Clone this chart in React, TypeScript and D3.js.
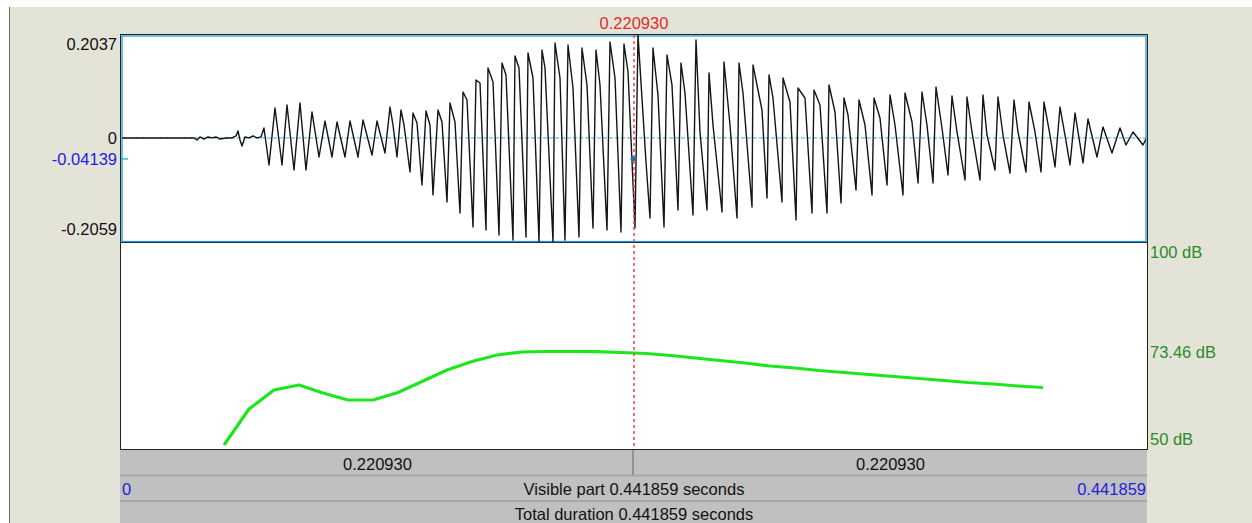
import React from 'react';
import { scaleLinear, line, curveLinear } from 'd3';

// sound: time (ms) and amplitude of the waveform turning points
const waveTimeMs = [
  0, 31.44, 32.73, 34.02, 35.74, 37.47, 39.19, 40.91, 42.64, 45.22, 47.8, 49.53, 50.39, 51.25, 52.11, 53.4, 55.12,
  56.85, 58.57, 60.29, 61.58, 63.74, 66.32, 69.34, 71.49, 74.5, 77.09, 79.67, 82.26, 85.27, 87.85, 90.87, 93.02,
  96.47, 98.62, 102.07, 104.22, 108.1, 110.25, 113.69, 115.85, 117.14, 118.86, 120.58, 121.88, 124.46, 125.75,
  127.48, 129.63, 131.35, 133.07, 134.37, 136.52, 138.24, 140.4, 141.69, 143.84, 145.99, 147.29, 149.01, 151.59,
  152.88, 154.61, 157.19, 158.05, 160.21, 162.79, 164.08, 165.8, 168.82, 169.68, 171.4, 174.42, 175.28, 177.43,
  180.02, 181.31, 182.6, 186.05, 186.91, 189.06, 191.21, 192.51, 194.66, 197.24, 198.53, 200.69, 203.27, 204.56,
  206.29, 209.3, 210.59, 212.75, 215.33, 216.62, 218.35, 221.36, 222.65, 226.1, 227.82, 229.11, 231.26, 233.85,
  235.14, 237.29, 239.88, 241.17, 242.89, 246.34, 247.63, 249.35, 252.37, 253.23, 254.95, 258.83, 259.69, 262.27,
  265.29, 266.15, 267.87, 271.75, 272.18, 276.05, 278.21, 279.07, 280.79, 284.67, 285.1, 288.11, 290.7, 291.56,
  294.57, 297.59, 298.45, 301.03, 304.05, 304.91, 307.49, 310.08, 311.37, 313.09, 316.54, 317.83, 320.41, 323.43,
  324.29, 326.87, 329.89, 331.18, 333.33, 336.78, 337.64, 340.65, 343.24, 344.96, 347.11, 349.7, 350.99, 353.57,
  356.16, 357.88, 360.03, 363.48, 364.34, 366.49, 369.94, 371.23, 372.95, 376.4, 377.69, 379.84, 382.86, 384.58,
  386.3, 389.75, 391.04, 393.62, 396.21, 397.5, 400.08, 402.24, 404.39, 406.54, 408.7, 410.85, 414.3, 416.45,
  420.32, 422.91, 426.78, 430.23, 432.81, 435.83, 440.13, 441.86
];
const waveAmp = [
  0, 0, -0.004, 0.0019, -0.0021, 0.0019, 0, 0.0019, -0.0021, 0, 0, 0.0039, 0.0137, -0.004, -0.016, 0.0019, 0,
  0.0039, 0, 0.0019, 0.0197, -0.0535, 0.0592, -0.0535, 0.0652, -0.0634, 0.0691, -0.0634, 0.0513, -0.0377, 0.0335,
  -0.0377, 0.0316, -0.0377, 0.0335, -0.0377, 0.0355, -0.0338, 0.0335, -0.0298, 0.0612, 0.0256, -0.0377, 0.0553,
  0.0256, -0.0674, 0.0494, 0.0296, -0.0931, 0.0533, 0.0256, -0.1129, 0.0553, 0.0316, -0.1267, 0.0691, 0.0316,
  -0.1485, 0.0909, 0.0751, -0.1762, 0.1147, 0.1087, -0.1821, 0.1384, 0.1107, -0.192, 0.1483, 0.1246, -0.2019,
  0.1621, 0.1384, -0.196, 0.1681, 0.1186, -0.2059, 0.174, 0.1384, -0.2059, 0.1879, 0.1186, -0.2019, 0.1839, 0.0988,
  -0.196, 0.178, 0.1048, -0.1782, 0.174, 0.1048, -0.1821, 0.1898, 0.1186, -0.1861, 0.1859, 0.1305, -0.1782, 0.2037,
  -0.0476, -0.1584, 0.178, 0.085, -0.1762, 0.1641, 0.1048, -0.1426, 0.1483, 0.0889, -0.1525, 0.1938, 0.0118,
  -0.1426, 0.1285, 0.0256, -0.1465, 0.1503, 0.0256, -0.1584, 0.1483, 0.0889, -0.1366, 0.1443, 0.0553, -0.1188,
  0.1246, 0.079, -0.1267, 0.1186, 0.0711, -0.1624, 0.0988, 0.079, -0.1485, 0.0949, 0.0652, -0.1485, 0.1048, 0.0513,
  -0.1287, 0.079, 0.0454, -0.103, 0.0751, 0.0256, -0.1129, 0.079, 0.0395, -0.0931, 0.085, 0.0256, -0.1129, 0.0889,
  0.0316, -0.0891, 0.0909, 0.0256, -0.0891, 0.1008, 0.0197, -0.0733, 0.083, 0.0118, -0.0832, 0.081, 0.0118,
  -0.0832, 0.085, 0.0058, -0.0634, 0.081, 0.0058, -0.0694, 0.0751, 0.0118, -0.0674, 0.0711, 0.0118, -0.0674,
  0.0711, 0.0058, -0.0575, 0.0612, 0.0058, -0.0535, 0.0494, -0.0496, 0.0375, -0.0377, 0.0217, -0.0298, 0.0197,
  -0.014, 0.0118, -0.014, 0.0019
];

// intensity contour
const intensityTime = [
  0.04436, 0.05512, 0.06589, 0.07666, 0.08699, 0.09776, 0.10853, 0.11929, 0.12963, 0.1404, 0.15116, 0.16193,
  0.1727, 0.18303, 0.1938, 0.20456, 0.21533, 0.2261, 0.23686, 0.2472, 0.25797, 0.26873, 0.2795, 0.29027, 0.3006,
  0.31137, 0.32214, 0.3329, 0.34367, 0.35443, 0.36477, 0.37554, 0.3863, 0.39707
];
const intensityDb = [
  50.97, 59.66, 64.25, 65.46, 63.53, 61.84, 61.84, 63.65, 66.3, 69.08, 71.14, 72.71, 73.43, 73.55, 73.55, 73.5,
  73.31, 73.07, 72.58, 71.98, 71.38, 70.77, 70.05, 69.57, 68.96, 68.48, 68.0, 67.51, 67.03, 66.55, 66.06, 65.7,
  65.22, 64.86
];

const totalDuration = 0.441859;
const cursorTime = 0.22093;
const cursorAmp = -0.04139;
const ampTop = 0.2037;
const ampBottom = -0.2059;
const dbTicks = ['100 dB', '73.46 dB', '50 dB'];
const dbValues = [100, 73.46, 50];
const partLabels = ['0.220930', '0.220930'];

const font = '"Liberation Sans", Arial, sans-serif';

export default function App() {
  const W = 1252, H = 523;
  const left = 121, right = 1147;
  const waveTop = 35, waveBottom = 242, lowBottom = 449;

  const x = scaleLinear().domain([0, totalDuration]).range([left, right]);
  const yWave = scaleLinear().domain([ampBottom, ampTop]).range([waveBottom, waveTop]);
  const yDb = scaleLinear().domain([50, 100]).range([lowBottom, waveBottom]);

  const wavePts = waveTimeMs.map((t, i) => [t / 1000, waveAmp[i]]);
  const wavePath = line<number[]>()
    .x(d => x(d[0]))
    .y(d => yWave(d[1]))
    .curve(curveLinear)(wavePts);

  const intPts = intensityTime.map((t, i) => [t, intensityDb[i]]);
  const intPath = line<number[]>()
    .x(d => x(d[0]))
    .y(d => yDb(d[1]))(intPts);

  const cx = x(cursorTime);
  const rowTop = 450;

  return (
    <svg width={W} height={H} style={{ position: 'absolute', left: 0, top: 0, display: 'block' }}
      fontFamily={font} fontSize={16.5}>
      <rect x={0} y={0} width={W} height={H} fill="#ffffff" />
      <rect x={10} y={7} width={W - 10} height={H - 7} fill="#e4e3d8" />
      <line x1={9.5} y1={7} x2={9.5} y2={H} stroke="#6b6b6b" />

      {/* panes */}
      <rect x={left} y={waveTop} width={right - left} height={lowBottom - waveTop} fill="#ffffff" />
      <rect x={left - 0.5} y={waveTop - 0.5} width={right - left + 1} height={lowBottom - waveTop + 1}
        fill="none" stroke="#222" />
      <line x1={left} y1={waveBottom + 0.5} x2={right} y2={waveBottom + 0.5} stroke="#222" />
      <rect x={left + 1} y={waveTop + 1} width={right - left - 2} height={waveBottom - waveTop - 1.5}
        fill="none" stroke="#1e9bd7" strokeWidth={1.3} />

      {/* zero line */}
      <line x1={left + 2} y1={yWave(0)} x2={right - 2} y2={yWave(0)} stroke="#3aaee0" strokeDasharray="4,2" />

      <clipPath id="waveClip">
        <rect x={left + 1} y={waveTop} width={right - left - 2} height={waveBottom - waveTop} />
      </clipPath>
      <path d={wavePath || ''} fill="none" stroke="#141414" strokeWidth={1.4} strokeLinejoin="round"
        clipPath="url(#waveClip)" />

      {/* intensity */}
      <path d={intPath || ''} fill="none" stroke="#1ee61e" strokeWidth={3.2} strokeLinejoin="round" />

      {/* cursor */}
      <line x1={cx} y1={waveTop} x2={cx} y2={lowBottom} stroke="#ec4a4a" strokeWidth={1.5} strokeDasharray="3,3" />
      <circle cx={cx - 1} cy={yWave(cursorAmp)} r={2.5} fill="#1f6fa8" />
      <text x={cx} y={23} textAnchor="middle" dominantBaseline="central" fill="#e42b2b">
        {cursorTime.toFixed(6)}
      </text>

      {/* amplitude labels */}
      <text x={117} y={yWave(ampTop) + 9} textAnchor="end" dominantBaseline="central" fill="#111">
        {ampTop.toFixed(4)}
      </text>
      <text x={117} y={yWave(0)} textAnchor="end" dominantBaseline="central" fill="#111">0</text>
      <text x={117} y={yWave(cursorAmp)} textAnchor="end" dominantBaseline="central" fill="#2222dd">
        {cursorAmp.toFixed(5)}
      </text>
      <line x1={left} y1={yWave(cursorAmp)} x2={left + 7} y2={yWave(cursorAmp)} stroke="#3aaee0" strokeWidth={1.5} />
      <text x={117} y={yWave(ampBottom) - 13} textAnchor="end" dominantBaseline="central" fill="#111">
        {ampBottom.toFixed(4)}
      </text>

      {/* dB labels */}
      {dbTicks.map((t, i) => (
        <text key={t} x={right + 3} y={yDb(dbValues[i]) + (i === 0 ? 10 : i === 2 ? -10 : 0)}
          dominantBaseline="central" fill="#2a8a2a">{t}</text>
      ))}

      {/* bottom bars */}
      <rect x={left - 1} y={rowTop} width={right - left + 1} height={H - rowTop} fill="#c0c0c0" />
      <line x1={left - 1} y1={475.5} x2={right} y2={475.5} stroke="#a6a6a6" strokeWidth={2} />
      <line x1={left - 1} y1={501} x2={right} y2={501} stroke="#a6a6a6" strokeWidth={2} />
      <line x1={cx - 1} y1={rowTop} x2={cx - 1} y2={475} stroke="#858585" strokeWidth={1.5} />
      <text x={x(cursorTime / 2)} y={464} textAnchor="middle" dominantBaseline="central" fill="#111">
        {partLabels[0]}
      </text>
      <text x={x((cursorTime + totalDuration) / 2)} y={464} textAnchor="middle" dominantBaseline="central" fill="#111">
        {partLabels[1]}
      </text>
      <text x={left + 1} y={489} dominantBaseline="central" fill="#2222dd">0</text>
      <text x={x(totalDuration / 2)} y={489} textAnchor="middle" dominantBaseline="central" fill="#111">
        {`Visible part ${totalDuration.toFixed(6)} seconds`}
      </text>
      <text x={right - 1} y={489} textAnchor="end" dominantBaseline="central" fill="#2222dd">
        {totalDuration.toFixed(6)}
      </text>
      <text x={x(totalDuration / 2)} y={514} textAnchor="middle" dominantBaseline="central" fill="#111">
        {`Total duration ${totalDuration.toFixed(6)} seconds`}
      </text>
    </svg>
  );
}
